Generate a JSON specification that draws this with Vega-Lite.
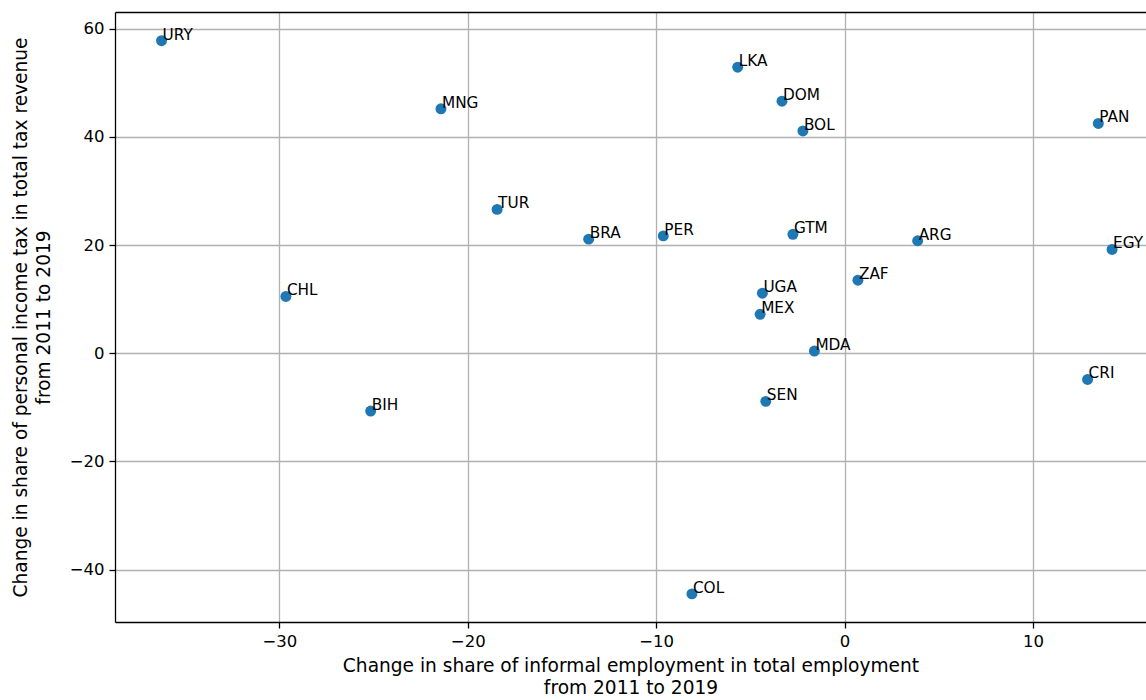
{
  "$schema": "https://vega.github.io/schema/vega-lite/v6.json",
  "width": 1031,
  "height": 610,
  "autosize": {"type": "none"},
  "padding": {"left": 115, "top": 12, "right": 0, "bottom": 78},
  "background": "white",
  "config": {
    "view": {"stroke": null},
    "font": "DejaVu Sans",
    "axis": {
      "labelFont": "DejaVu Sans",
      "titleFont": "DejaVu Sans",
      "labelFontSize": 16.5,
      "titleFontSize": 18.6,
      "titleFontWeight": "normal",
      "labelColor": "#000",
      "titleColor": "#000",
      "domainColor": "#000",
      "domainWidth": 1.3,
      "tickColor": "#000",
      "tickWidth": 1.3,
      "tickSize": 6,
      "labelPadding": 5,
      "gridColor": "#b0b0b0",
      "gridWidth": 1.3,
      "gridOpacity": 1
    }
  },
  "data": {
    "values": [
      {"code": "URY", "informal": -36.25, "pit": 57.8},
      {"code": "MNG", "informal": -21.42, "pit": 45.2},
      {"code": "TUR", "informal": -18.44, "pit": 26.6},
      {"code": "BRA", "informal": -13.58, "pit": 21.1},
      {"code": "PER", "informal": -9.62, "pit": 21.7},
      {"code": "CHL", "informal": -29.65, "pit": 10.5},
      {"code": "BIH", "informal": -25.15, "pit": -10.7},
      {"code": "LKA", "informal": -5.67, "pit": 52.9},
      {"code": "DOM", "informal": -3.32, "pit": 46.6},
      {"code": "BOL", "informal": -2.21, "pit": 41.1},
      {"code": "GTM", "informal": -2.74, "pit": 22.0},
      {"code": "UGA", "informal": -4.36, "pit": 11.1},
      {"code": "MEX", "informal": -4.48, "pit": 7.2},
      {"code": "MDA", "informal": -1.6, "pit": 0.4},
      {"code": "SEN", "informal": -4.18, "pit": -8.9},
      {"code": "COL", "informal": -8.1, "pit": -44.5},
      {"code": "ZAF", "informal": 0.71, "pit": 13.5},
      {"code": "ARG", "informal": 3.88, "pit": 20.8},
      {"code": "PAN", "informal": 13.47, "pit": 42.5},
      {"code": "EGY", "informal": 14.2, "pit": 19.2},
      {"code": "CRI", "informal": 12.9, "pit": -4.85}
    ]
  },
  "resolve": {"axis": {"x": "independent", "y": "independent"}},
  "layer": [
    {
      "mark": {"type": "point", "filled": true, "shape": "circle", "size": 120, "color": "#1f77b4", "opacity": 1},
      "encoding": {
        "x": {
          "field": "informal",
          "type": "quantitative",
          "scale": {"domain": [-38.72, 16.0], "nice": false, "zero": false},
          "axis": {
            "values": [-30, -20, -10, 0, 10],
            "grid": true,
            "orient": "bottom",
            "titlePadding": 7,
            "titleLineHeight": 22,
            "title": ["Change in share of informal employment in total employment", "from 2011 to 2019"]
          }
        },
        "y": {
          "field": "pit",
          "type": "quantitative",
          "scale": {"domain": [-49.7, 63.1], "nice": false, "zero": false},
          "axis": {
            "values": [-40, -20, 0, 20, 40, 60],
            "grid": true,
            "orient": "left",
            "titlePadding": 16,
            "titleLineHeight": 23,
            "title": ["Change in share of personal income tax in total tax revenue", "from 2011 to 2019"]
          }
        }
      }
    },
    {
      "mark": {"type": "text", "align": "left", "baseline": "alphabetic", "dx": 1, "dy": -1, "fontSize": 15.3, "font": "DejaVu Sans", "color": "#000"},
      "encoding": {
        "x": {
          "field": "informal",
          "type": "quantitative",
          "axis": {"orient": "top", "labels": false, "ticks": false, "grid": false, "title": null, "domain": true}
        },
        "y": {
          "field": "pit",
          "type": "quantitative",
          "axis": null
        },
        "text": {"field": "code"}
      }
    }
  ]
}
